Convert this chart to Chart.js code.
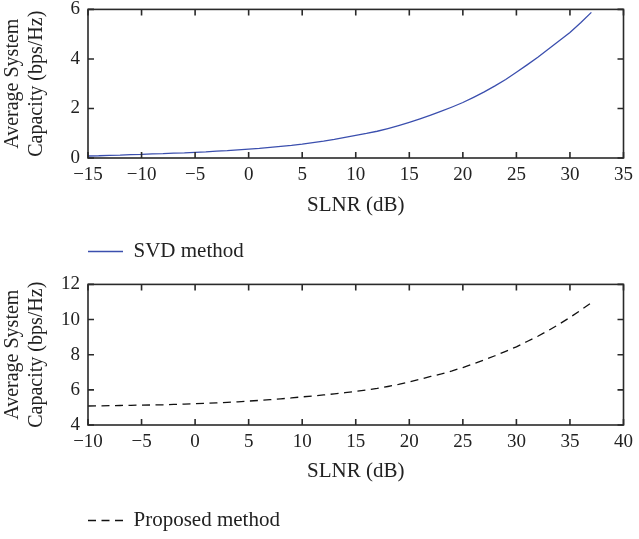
<!DOCTYPE html>
<html>
<head>
<meta charset="utf-8">
<script src="https://cdn.jsdelivr.net/npm/chart.js@4"></script>
<style>
  html, body { margin: 0; padding: 0; background: #fff; overflow: hidden; }
  body { width: 639px; height: 539px; position: relative; }
  canvas { position: absolute; left: 0; }
  #svdChart { top: -10px; }
  #proposedChart { top: 265px; }
</style>
</head>
<body>
<canvas id="svdChart" width="639" height="282"></canvas>
<canvas id="proposedChart" width="639" height="276"></canvas>
<script>
Chart.defaults.font.family = "'Liberation Serif', 'DejaVu Serif', serif"
Chart.defaults.color = '#222'

// SLNR (dB) against average capacity (bps/Hz)
var snrSvd = [-15,-14,-13,-12,-11,-10,-9,-8,-7,-6,-5,-4,-3,-2,-1,0,1,2,3,4,5,6,7,8,9,10,11,12,13,14,15,16,17,18,19,20,21,22,23,24,25,26,27,28,29,30,31,32]
var capSvd = [0.08,0.09,0.11,0.12,0.14,0.15,0.17,0.18,0.20,0.21,0.23,0.25,0.28,0.30,0.33,0.36,0.39,0.43,0.47,0.51,0.56,0.62,0.68,0.75,0.83,0.91,0.99,1.08,1.19,1.31,1.44,1.58,1.73,1.89,2.06,2.24,2.45,2.67,2.91,3.17,3.46,3.76,4.07,4.40,4.73,5.07,5.46,5.88]

var snrProposed = [-10,-9,-8,-7,-6,-5,-4,-3,-2,-1,0,1,2,3,4,5,6,7,8,9,10,11,12,13,14,15,16,17,18,19,20,21,22,23,24,25,26,27,28,29,30,31,32,33,34,35,36,37]
var capProposed = [5.08,5.09,5.10,5.11,5.12,5.13,5.14,5.15,5.17,5.19,5.21,5.23,5.26,5.29,5.32,5.36,5.40,5.44,5.49,5.54,5.60,5.65,5.71,5.77,5.84,5.91,5.99,6.08,6.19,6.31,6.45,6.60,6.76,6.91,7.08,7.27,7.48,7.70,7.94,8.19,8.45,8.75,9.05,9.38,9.74,10.12,10.53,10.96]

var svdAxis = { xMin: -15, xMax: 35, yMin: 0, yMax: 6 }
var proposedAxis = { xMin: -10, xMax: 40, yMin: 4, yMax: 12 }

function toPoints(xs, ys) {
  return xs.map(function (x, i) { return { x: x, y: ys[i] } })
}

function minusSign(v) {
  return v < 0 ? '\u2212' + Math.abs(v) : '' + v
}

// legend swatch as a short line carrying the dataset's own dash
function lineLabels(chart) {
  var items = Chart.defaults.plugins.legend.labels.generateLabels(chart)
  items.forEach(function (item) {
    var ds = chart.data.datasets[item.datasetIndex]
    item.lineDash = ds.borderDash
    item.strokeStyle = ds.borderColor
    item.lineWidth = ds.borderWidth
  })
  return items
}

// box round the plot with ticks pointing inward on all four sides
var framePlugin = {
  id: 'frame',
  afterDraw: function (chart) {
    var ctx = chart.ctx, a = chart.chartArea
    var xs = chart.scales.x, ys = chart.scales.y
    var len = 6
    ctx.save()
    ctx.strokeStyle = '#2a2a2a'
    ctx.lineWidth = 1.6
    ctx.setLineDash([])
    ctx.beginPath()
    xs.ticks.forEach(function (t) {
      var px = xs.getPixelForValue(t.value)
      ctx.moveTo(px, a.bottom); ctx.lineTo(px, a.bottom - len)
      ctx.moveTo(px, a.top); ctx.lineTo(px, a.top + len)
    })
    ys.ticks.forEach(function (t) {
      var py = ys.getPixelForValue(t.value)
      ctx.moveTo(a.left, py); ctx.lineTo(a.left + len, py)
      ctx.moveTo(a.right, py); ctx.lineTo(a.right - len, py)
    })
    ctx.stroke()
    ctx.strokeRect(a.left, a.top, a.right - a.left, a.bottom - a.top)
    ctx.restore()
  }
}

function makeChart(id, label, xs, ys, range, style) {
  var context = document.getElementById(id).getContext('2d')
  return new Chart(context, {
    type: 'line',
    data: {
      datasets: [{
        label: label,
        data: toPoints(xs, ys),
        borderColor: style.color,
        backgroundColor: style.color,
        borderWidth: style.width,
        borderDash: style.dash,
        pointRadius: 0,
        tension: 0,
        fill: false
      }]
    },
    options: {
      responsive: false,
      animation: false,
      layout: { padding: { top: style.padTop, right: style.padRight, left: 0, bottom: 0 } },
      plugins: {
        tooltip: { enabled: false },
        legend: {
          position: 'bottom',
          align: 'start',
          fullSize: false,
          labels: {
            usePointStyle: true,
            pointStyle: 'line',
            pointStyleWidth: 35,
            padding: 0,
            color: '#222',
            font: { size: 21 },
            generateLabels: lineLabels
          }
        }
      },
      scales: {
        x: {
          type: 'linear',
          min: range.xMin, max: range.xMax,
          grid: { display: false, drawTicks: false },
          border: { display: false },
          ticks: { stepSize: 5, padding: 6, font: { size: 19 }, callback: minusSign, maxRotation: 0 },
          title: { display: true, text: 'SLNR (dB)', font: { size: 21 }, padding: { top: 4, bottom: style.titleBottom } },
          afterFit: function (s) { s.height = style.xHeight }
        },
        y: {
          min: range.yMin, max: range.yMax,
          grid: { display: false, drawTicks: false },
          border: { display: false },
          ticks: { stepSize: 2, padding: 8, font: { size: 19 } },
          title: {
            display: true,
            text: ['Average System', 'Capacity (bps/Hz)'],
            font: { size: 20, lineHeight: 1.2 },
            padding: { top: 1, bottom: 0 }
          },
          afterFit: function (s) { s.width = 88 }
        }
      }
    },
    plugins: [framePlugin]
  })
}

makeChart('svdChart', 'SVD method', snrSvd, capSvd, svdAxis,
  { color: '#3b4fae', width: 1.3, dash: [], padTop: 17, padRight: 12, xHeight: 83, titleBottom: 23 })

makeChart('proposedChart', 'Proposed method', snrProposed, capProposed, proposedAxis,
  { color: '#111', width: 1.3, dash: [8, 5.5], padTop: 12, padRight: 13, xHeight: 85, titleBottom: 26 })
</script>
</body>
</html>
